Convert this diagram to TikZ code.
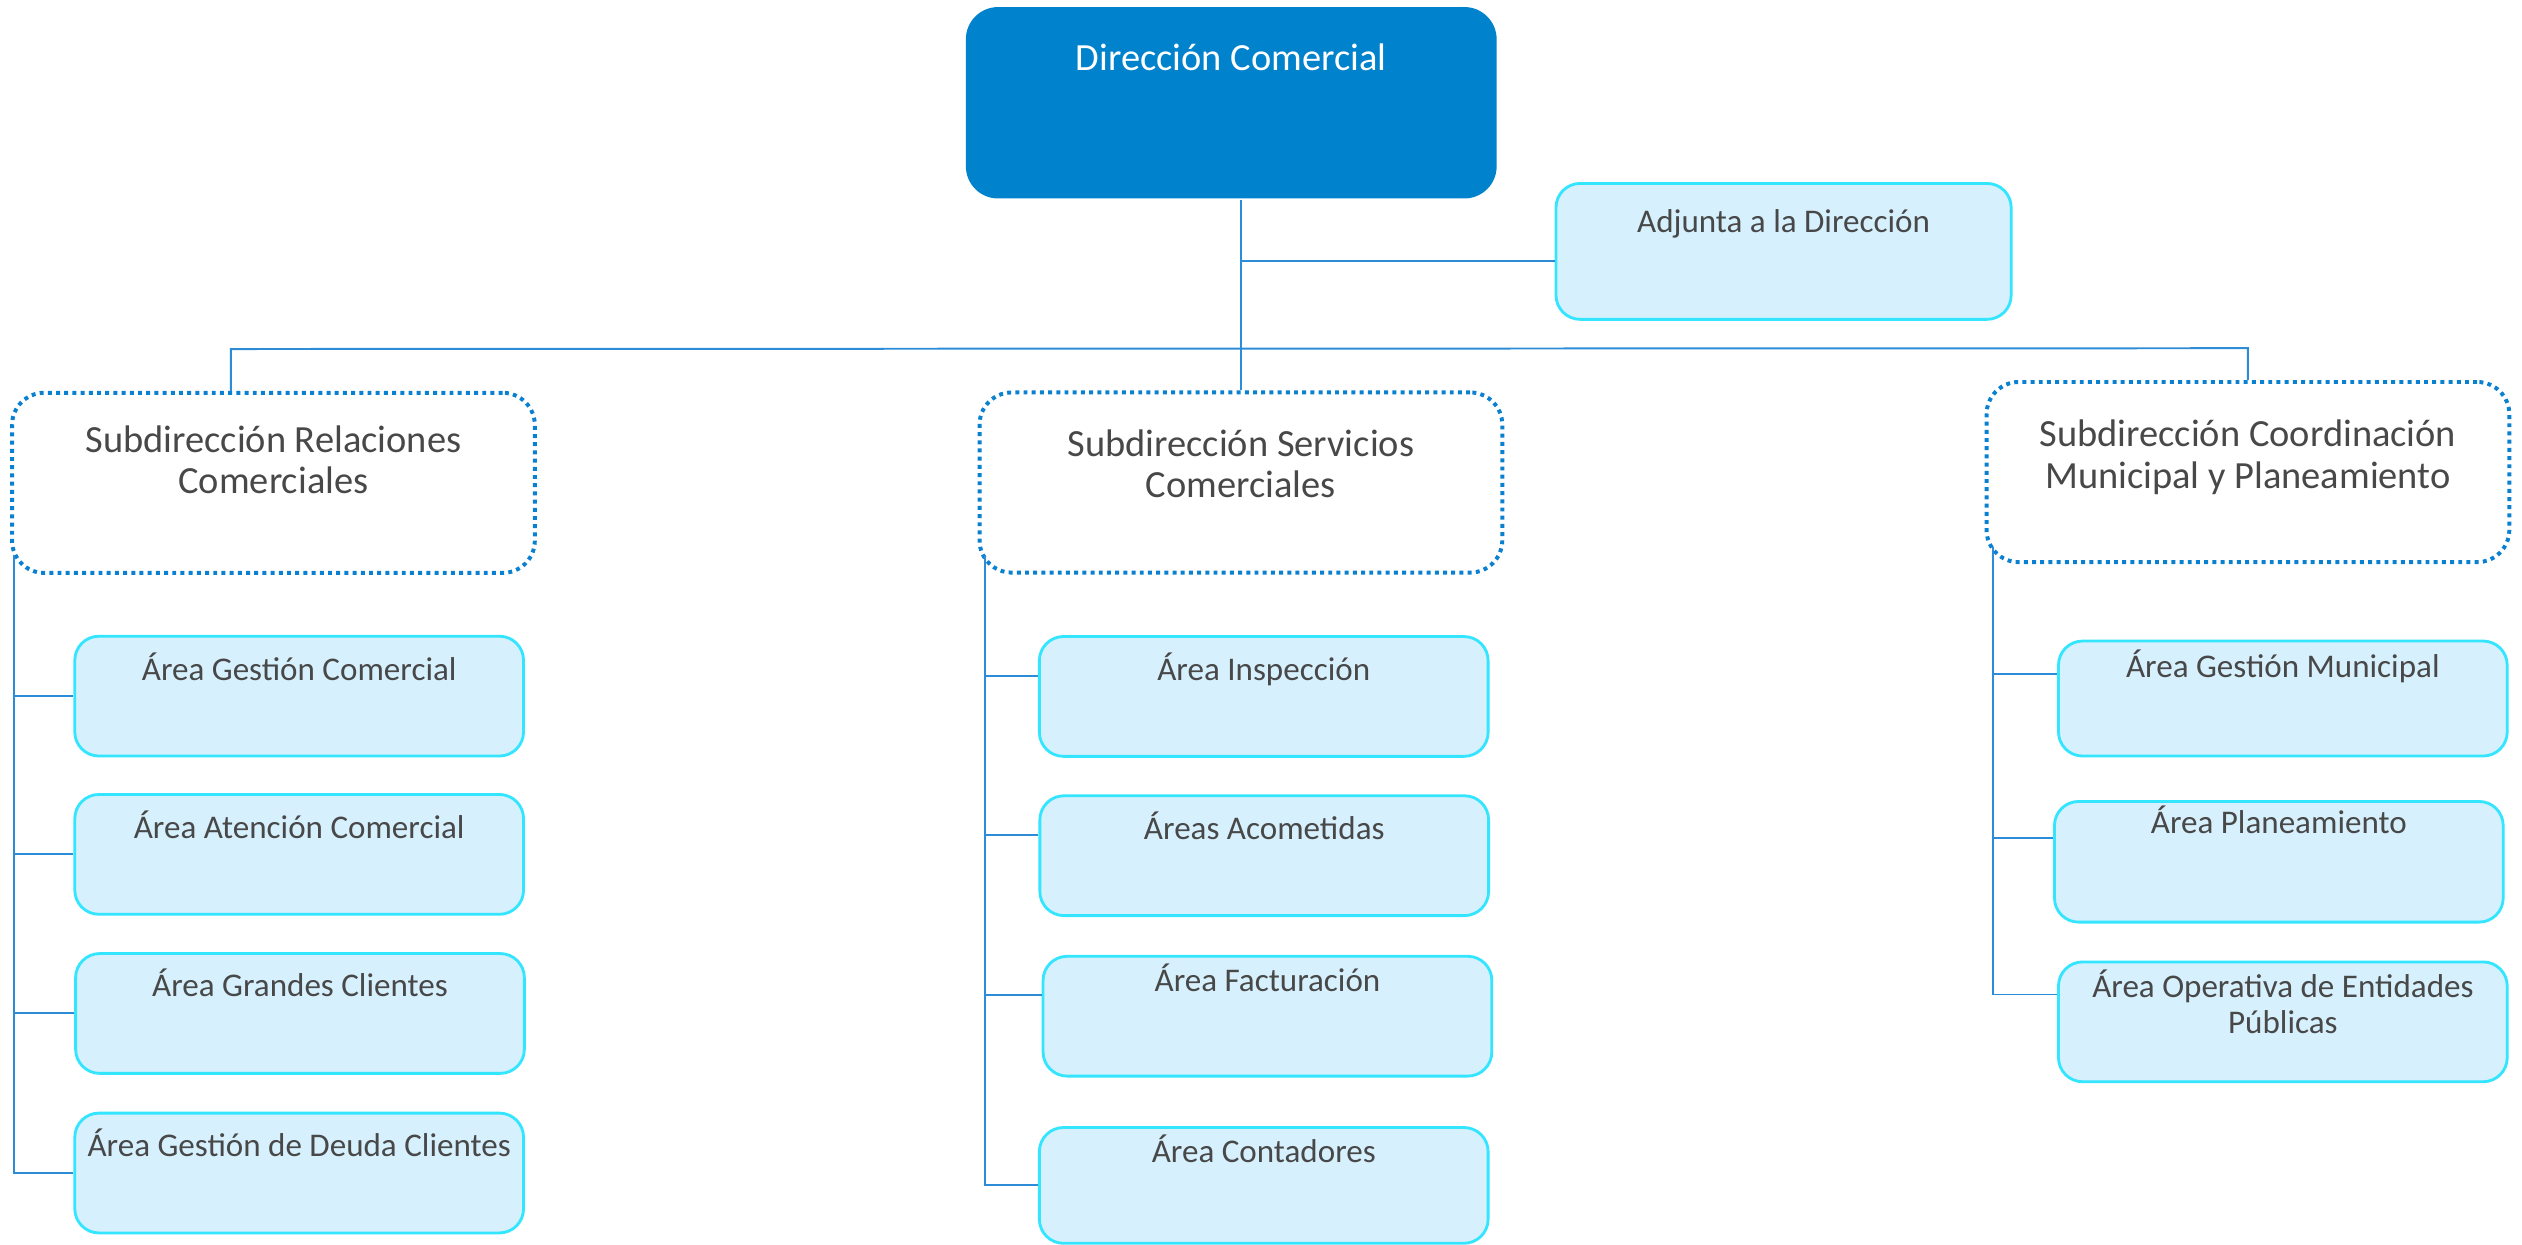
\documentclass[tikz,border=0pt]{standalone}
\usepackage{fontspec}
\setmainfont{Carlito}
\usetikzlibrary{positioning}
\definecolor{dirblue}{RGB}{0,130,204}
\definecolor{areafill}{RGB}{214,240,253}
\definecolor{arealine}{RGB}{51,229,255}
\definecolor{subline}{RGB}{10,128,208}
\definecolor{linkblue}{RGB}{45,140,215}
\definecolor{txtgray}{RGB}{72,72,72}
\tikzset{
    dirbox/.style={rectangle, rounded corners=0.2cm, fill=dirblue, inner sep=0pt},
    subbox/.style={rectangle, rounded corners=0.2cm, draw=subline, line width=0.7pt,
        dash pattern=on 0.7pt off 0.75pt, minimum width=3.25cm, minimum height=1.12cm, inner sep=0pt},
    areabox/.style={rectangle, rounded corners=0.15cm, draw=arealine, fill=areafill, line width=0.5pt,
        minimum width=2.79cm, minimum height=0.745cm, inner sep=0pt},
    subtxt/.style={inner sep=0pt, anchor=base, align=center, text=txtgray, font=\fontsize{6.8}{7.4}\selectfont},
    areatxt/.style={inner sep=0pt, anchor=base, align=center, text=txtgray, font=\fontsize{5.85}{6.35}\selectfont},
    link/.style={draw=linkblue, line width=0.35pt}
}
\begin{document}
\begin{tikzpicture}[x=1cm, y=-1cm]
    \useasboundingbox (0,0) rectangle (15.68,7.74);

    \node[dirbox, minimum width=3.3cm, minimum height=1.19cm] (dir) at (7.655,0.639) {};
    \node[subtxt, text=white] (tdir) at (7.655,0.44) {Dirección Comercial};
    \node[areabox, minimum width=2.83cm, minimum height=0.845cm] (adj) at (11.089,1.563) {};
    \node[areatxt] (tadj) at (11.089,1.443) {Adjunta a la Dirección};

    \node[subbox] (src) at (1.70,3.002) {};
    \node[subtxt] (tsrc) at (1.70,3.071) {Subdirección Relaciones\\Comerciales};
    \node[subbox] (ssc) at (7.715,3.00) {};
    \node[subtxt] (tssc) at (7.715,3.096) {Subdirección Servicios\\Comerciales};
    \node[subbox] (scmp) at (13.976,2.935) {};
    \node[subtxt] (tscmp) at (13.976,3.035) {Subdirección Coordinación\\Municipal y Planeamiento};

    \node[areabox] (agc) at (1.86,4.328) {};
    \node[areatxt] (tagc) at (1.86,4.23) {Área Gestión Comercial};
    \node[areabox] (aac) at (1.86,5.312) {};
    \node[areatxt] (taac) at (1.86,5.213) {Área Atención Comercial};
    \node[areabox] (agcl) at (1.865,6.301) {};
    \node[areatxt] (tagcl) at (1.865,6.196) {Área Grandes Clientes};
    \node[areabox] (agd) at (1.86,7.293) {};
    \node[areatxt] (tagd) at (1.86,7.189) {Área Gestión de Deuda Clientes};

    \node[areabox] (ai) at (7.857,4.33) {};
    \node[areatxt] (tai) at (7.857,4.23) {Área Inspección};
    \node[areabox] (aa) at (7.86,5.32) {};
    \node[areatxt] (taa) at (7.86,5.22) {Áreas Acometidas};
    \node[areabox] (af) at (7.88,6.318) {};
    \node[areatxt] (taf) at (7.88,6.164) {Área Facturación};
    \node[areabox, minimum height=0.72cm] (aco) at (7.857,7.37) {};
    \node[areatxt] (taco) at (7.857,7.23) {Área Contadores};

    \node[areabox, minimum height=0.715cm] (agm) at (14.193,4.343) {};
    \node[areatxt] (tagm) at (14.193,4.213) {Área Gestión Municipal};
    \node[areabox, minimum height=0.75cm] (ap) at (14.168,5.358) {};
    \node[areatxt] (tap) at (14.168,5.182) {Área Planeamiento};
    \node[areabox] (aoe) at (14.193,6.353) {};
    \node[areatxt] (taoe) at (14.193,6.423) {Área Operativa de Entidades\\Públicas};

    \coordinate (busl) at (1.435,2.17);
    \coordinate (busr) at (13.976,2.165);
    \coordinate (ltop) at (0.085,3.45);
    \coordinate (ctop) at (6.125,3.45);
    \coordinate (rtop) at (12.39,3.40);

    \draw[link] (dir.south -| ssc.north) -- (ssc.north);
    \draw[link] ([yshift=-0.06cm]adj.west -| ssc.north) -- ([yshift=-0.06cm]adj.west);
    \draw[link] (busl |- src.north) -- (busl) -- (busr) -- (scmp.north);

    \draw[link] (ltop) -- (ltop |- agd.west) -- (agd.west);
    \foreach \n in {agc,aac,agcl}
        \draw[link] (ltop |- \n.west) -- (\n.west);

    \draw[link] (ctop) -- (ctop |- aco.west) -- (aco.west);
    \foreach \n in {ai,aa,af}
        \draw[link] ([yshift=0.13cm]ctop |- \n.west) -- ([yshift=0.13cm]\n.west);

    \draw[link] (rtop) -- ([yshift=0.17cm]rtop |- aoe.west) -- ([yshift=0.17cm]aoe.west);
    \foreach \n in {agm,ap}
        \draw[link] ([yshift=0.15cm]rtop |- \n.west) -- ([yshift=0.15cm]\n.west);
\end{tikzpicture}
\end{document}
